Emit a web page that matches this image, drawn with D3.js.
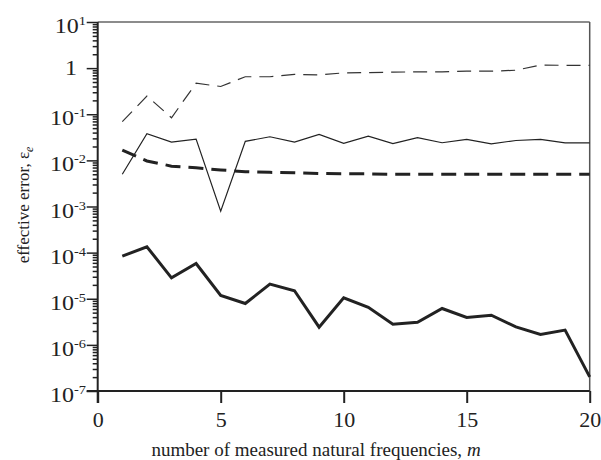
<!DOCTYPE html>
<html>
<head>
<meta charset="utf-8">
<script src="https://cdn.jsdelivr.net/npm/d3@7"></script>
<style>
  body { margin: 0; background: #fff; }
  svg text { font-family: "Liberation Serif", "DejaVu Serif", serif; fill: #222; }
</style>
</head>
<body>
<div class="chart"></div>
<script>
// m = 1..20
const m = [1, 2, 3, 4, 5, 6, 7, 8, 9, 10, 11, 12, 13, 14, 15, 16, 17, 18, 19, 20];

// thin dashed (top)
const thinDashed = [0.069, 0.248, 0.084, 0.47, 0.40, 0.65, 0.65, 0.73, 0.71, 0.79,
  0.80, 0.82, 0.83, 0.83, 0.86, 0.86, 0.90, 1.17, 1.15, 1.15];
// thin solid
const thinSolid = [0.0050, 0.0378, 0.0249, 0.029, 0.00079, 0.0258, 0.0325, 0.0249, 0.0366, 0.0233,
  0.0336, 0.0230, 0.031, 0.0241, 0.0285, 0.0229, 0.027, 0.0285, 0.024, 0.024];
// thick dashed
const thickDashed = [0.0167, 0.0097, 0.0075, 0.0069, 0.0062, 0.0057, 0.0055, 0.0054, 0.0052, 0.0051,
  0.0051, 0.0050, 0.0050, 0.0050, 0.0050, 0.0050, 0.0050, 0.0050, 0.0050, 0.0050];
// thick solid (bottom)
const thickSolid = [8.4e-5, 1.34e-4, 2.84e-5, 5.8e-5, 1.18e-5, 7.9e-6, 2.07e-5, 1.49e-5, 2.42e-6, 1.05e-5,
  6.5e-6, 2.81e-6, 3.1e-6, 6.15e-6, 3.93e-6, 4.4e-6, 2.46e-6, 1.68e-6, 2.09e-6, 2.02e-7];

const xTicks = [0, 5, 10, 15, 20];
const yExponents = [1, 0, -1, -2, -3, -4, -5, -6, -7];

const width = 601, height = 460;
const plot = { left: 97.7, right: 589.7, top: 22, bottom: 391 };

const svg = d3.select(".chart").append("svg")
  .attr("width", width)
  .attr("height", height);

const x = d3.scaleLinear().domain([0, 20]).range([plot.left, plot.right]);
const y = d3.scaleLog().domain([1e-7, 10]).range([plot.bottom, plot.top]);

// frame (top and right, grey)
svg.append("line")
  .attr("x1", plot.left).attr("x2", plot.right).attr("y1", plot.top).attr("y2", plot.top)
  .attr("stroke", "#666").attr("stroke-width", 1.5);
svg.append("line")
  .attr("x1", plot.right).attr("x2", plot.right).attr("y1", plot.top).attr("y2", plot.bottom)
  .attr("stroke", "#555").attr("stroke-width", 1.5);

// minor log ticks
const minorTicks = [];
for (let e = -7; e < 1; e++) {
  for (let k = 2; k <= 9; k++) minorTicks.push(k * Math.pow(10, e));
}

const yMinor = svg.append("g")
  .attr("transform", `translate(${plot.left},0)`)
  .call(d3.axisLeft(y).tickValues(minorTicks).tickSize(5).tickFormat(""));
const yMajor = svg.append("g")
  .attr("transform", `translate(${plot.left},0)`)
  .call(d3.axisLeft(y).tickValues(yExponents.map(e => Math.pow(10, e))).tickSize(11).tickFormat(""));
[yMinor, yMajor].forEach(g => {
  g.select(".domain").remove();
  g.selectAll("line").attr("stroke", "#222").attr("stroke-width", 1.5);
});

// y axis line (extends a bit below x axis)
svg.append("line")
  .attr("x1", plot.left).attr("x2", plot.left).attr("y1", plot.top).attr("y2", plot.bottom + 12)
  .attr("stroke", "#222").attr("stroke-width", 2);

// y tick labels: the original face is a little wider, so stretch slightly
yExponents.forEach(e => {
  const yy = y(Math.pow(10, e));
  const g = svg.append("g")
    .attr("transform", e === 0
      ? `translate(77,${yy + 7}) scale(1.2,1)`
      : `translate(86,${yy + 11}) scale(1.2,1)`);
  const t = g.append("text")
    .attr("text-anchor", "end")
    .attr("font-size", 20);
  if (e === 0) {
    t.text("1");
  } else {
    t.append("tspan").text("10");
    t.append("tspan").attr("font-size", 12).attr("dy", -8).text(e < 0 ? "-" + (-e) : e);
  }
});

// x axis
const xAxis = svg.append("g")
  .attr("transform", `translate(0,${plot.bottom})`)
  .call(d3.axisBottom(x).tickValues(xTicks).tickSize(12).tickPadding(8));
xAxis.select(".domain").remove();
xAxis.selectAll("line").attr("stroke", "#222").attr("stroke-width", 2);
xAxis.selectAll("text")
  .attr("font-size", 22)
  .style("font-family", "'Liberation Serif', serif")
  .attr("fill", "#222");

svg.append("line")
  .attr("x1", plot.left - 11).attr("x2", plot.right).attr("y1", plot.bottom).attr("y2", plot.bottom)
  .attr("stroke", "#222").attr("stroke-width", 2);

// axis titles
const xTitle = svg.append("text")
  .attr("x", 316)
  .attr("y", 456)
  .attr("text-anchor", "middle")
  .attr("font-size", 19);
xTitle.append("tspan").text("number of measured natural frequencies, ");
xTitle.append("tspan").attr("font-style", "italic").text("m");

const yTitle = svg.append("text")
  .attr("transform", "translate(29,205) rotate(-90)")
  .attr("text-anchor", "middle")
  .attr("font-size", 17);
yTitle.append("tspan").text("effective error, ε");
yTitle.append("tspan").attr("font-style", "italic").attr("font-size", 12).attr("dy", 4).text("e");

// series
const line = d3.line()
  .x(d => x(d[0]))
  .y(d => y(d[1]));

const series = [
  { values: thinDashed, width: 1.2, dash: "14,8", color: "#333" },
  { values: thinSolid, width: 1.2, dash: null, color: "#222" },
  { values: thickDashed, width: 3, dash: "15,8", color: "#222" },
  { values: thickSolid, width: 3, dash: null, color: "#222" }
];

series.forEach(s => {
  svg.append("path")
    .datum(m.map((v, i) => [v, s.values[i]]))
    .attr("d", line)
    .attr("fill", "none")
    .attr("stroke", s.color)
    .attr("stroke-width", s.width)
    .attr("stroke-linejoin", "miter")
    .attr("stroke-dasharray", s.dash);
});
</script>
</body>
</html>
